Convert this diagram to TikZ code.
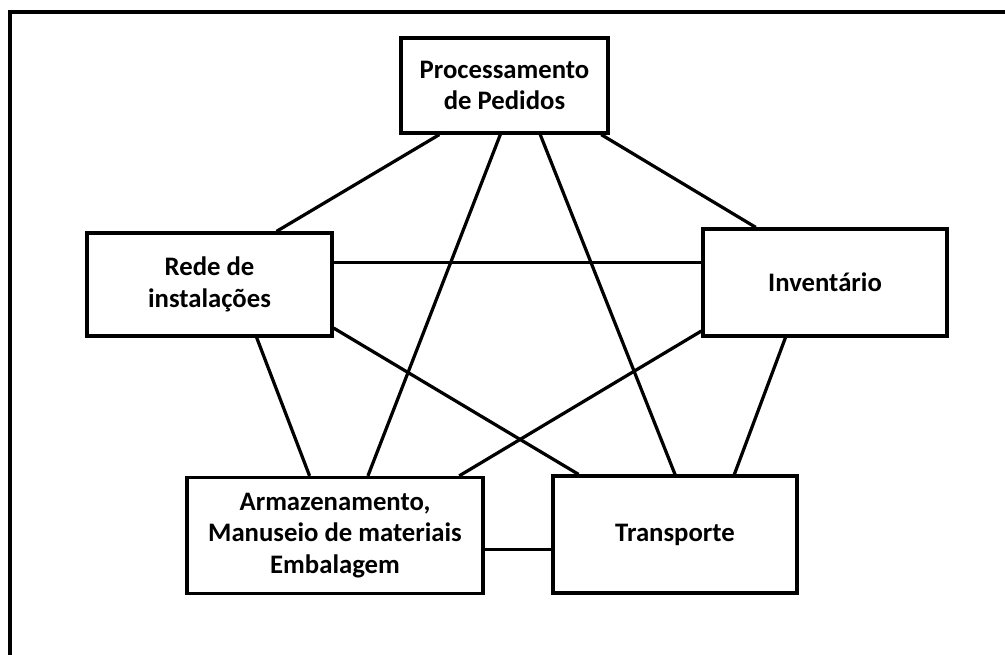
\documentclass[tikz,border=0pt]{standalone}
\usepackage{fontspec}
\setmainfont{Carlito}
\usetikzlibrary{calc}

\begin{document}
\begin{tikzpicture}[x=0.025cm,y=-0.025cm,line width=2.3pt,
  box/.style={draw,rectangle,align=center,font=\fontsize{19}{22.5}\selectfont\bfseries}]
  \useasboundingbox (0,0) rectangle (1005,655);
  % frame
  \draw (1005,12) -- (10,12) -- (10,655);
  % nodes
  \node[box,minimum width=5.175cm,minimum height=2.375cm] (proc) at (504.5,85.5) {Processamento\\de Pedidos};
  \node[box,minimum width=6.125cm,minimum height=2.575cm] (rede) at (209.5,284.5) {Rede de\\instalações};
  \node[box,minimum width=6.1cm,minimum height=2.675cm] (inv) at (825,282.5) {Inventário};
  \node[box,minimum width=7.4cm,minimum height=2.9cm] (arm) at (335,535.5) {Armazenamento,\\Manuseio de materiais\\Embalagem};
  \node[box,minimum width=6.1cm,minimum height=2.925cm] (trans) at (675,534.5) {Transporte};
  % links
  \draw ($(proc.south west)!0.19!(proc.south east)$) -- ($(rede.north west)!0.77!(rede.north east)$);
  \draw ($(proc.south west)!0.96!(proc.south east)$) -- ($(inv.north west)!0.22!(inv.north east)$);
  \draw ($(proc.south west)!0.48!(proc.south east)$) -- ($(arm.north west)!0.61!(arm.north east)$);
  \draw ($(proc.south west)!0.67!(proc.south east)$) -- ($(trans.north west)!0.50!(trans.north east)$);
  \draw ($(rede.north east)!0.29!(rede.south east)$) coordinate (ri) -- (ri -| inv.west);
  \draw ($(rede.south west)!0.69!(rede.south east)$) -- ($(arm.north west)!0.415!(arm.north east)$);
  \draw ($(rede.north east)!0.91!(rede.south east)$) -- ($(trans.north west)!0.11!(trans.north east)$);
  \draw ($(inv.north west)!0.94!(inv.south west)$) -- ($(arm.north west)!0.915!(arm.north east)$);
  \draw ($(inv.south west)!0.34!(inv.south east)$) -- ($(trans.north west)!0.74!(trans.north east)$);
  \draw ($(arm.north east)!0.62!(arm.south east)$) coordinate (at) -- (at -| trans.west);
\end{tikzpicture}
\end{document}
